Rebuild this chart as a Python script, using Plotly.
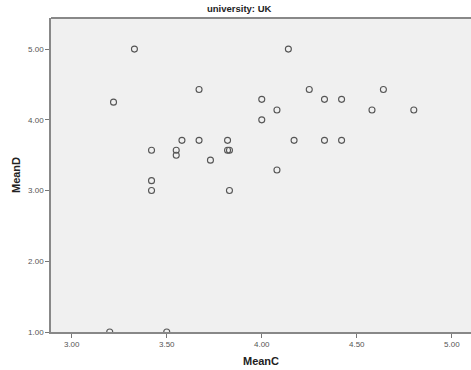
import plotly.graph_objects as go

mean_c = [3.33, 3.22, 3.67, 3.42, 3.55, 3.55, 3.58, 3.67, 3.73, 3.82, 3.82, 3.83,
          3.42, 3.42, 3.83, 3.20, 3.50,
          4.14, 4.25, 4.64, 4.00, 4.33, 4.42, 4.08, 4.58, 4.80, 4.00, 4.17, 4.33, 4.42, 4.08]
mean_d = [5.00, 4.25, 4.43, 3.57, 3.57, 3.50, 3.71, 3.71, 3.43, 3.71, 3.57, 3.57,
          3.14, 3.00, 3.00, 1.00, 1.00,
          5.00, 4.43, 4.43, 4.29, 4.29, 4.29, 4.14, 4.14, 4.14, 4.00, 3.71, 3.71, 3.71, 3.29]

x_ticks = [3.0, 3.5, 4.0, 4.5, 5.0]
x_labels = ["3.00", "3.50", "4.00", "4.50", "5.00"]
y_ticks = [1.0, 2.0, 3.0, 4.0, 5.0]
y_labels = ["1.00", "2.00", "3.00", "4.00", "5.00"]

fig = go.Figure()
fig.add_trace(go.Scatter(
    x=mean_c, y=mean_d, mode="markers",
    marker=dict(symbol="circle-open", size=6, color="#555555", line=dict(width=1.1, color="#555555")),
    cliponaxis=True, showlegend=False, hoverinfo="x+y",
))

axis_font = dict(family="Liberation Sans, Arial, sans-serif", size=8, color="#555555")
fig.update_layout(
    width=471, height=370,
    margin=dict(l=51, r=0, t=18, b=38),
    paper_bgcolor="white", plot_bgcolor="#f0f0f0",
    font=dict(family="Liberation Sans, Arial, sans-serif"),
    title=dict(text="<b>university: UK</b>", x=0.448, xref="paper", xanchor="center",
               y=1, yref="container", yanchor="top", pad=dict(t=5),
               font=dict(size=9.5, color="#222222")),
    xaxis=dict(range=[2.891, 5.101], tickvals=x_ticks, ticktext=x_labels,
               showgrid=False, zeroline=False, showline=True, linecolor="#888888", linewidth=1.5,
               ticks="outside", ticklen=4, tickcolor="#777777", tickwidth=1,
               tickfont=axis_font,
               title=dict(text="<b>MeanC</b>", font=dict(size=11, color="#222222"), standoff=9)),
    yaxis=dict(range=[1.0, 5.44], tickvals=y_ticks, ticktext=y_labels,
               showgrid=False, zeroline=False, showline=True, linecolor="#888888", linewidth=1.5,
               ticks="outside", ticklen=4, tickcolor="#777777", tickwidth=1,
               tickfont=axis_font,
               title=dict(text="<b>MeanD</b>", font=dict(size=11, color="#222222"), standoff=5)),
    shapes=[dict(type="line", xref="paper", yref="paper", x0=0, x1=1, y0=1, y1=1,
                 line=dict(color="#888888", width=2))],
)

fig.write_html("out.html")
